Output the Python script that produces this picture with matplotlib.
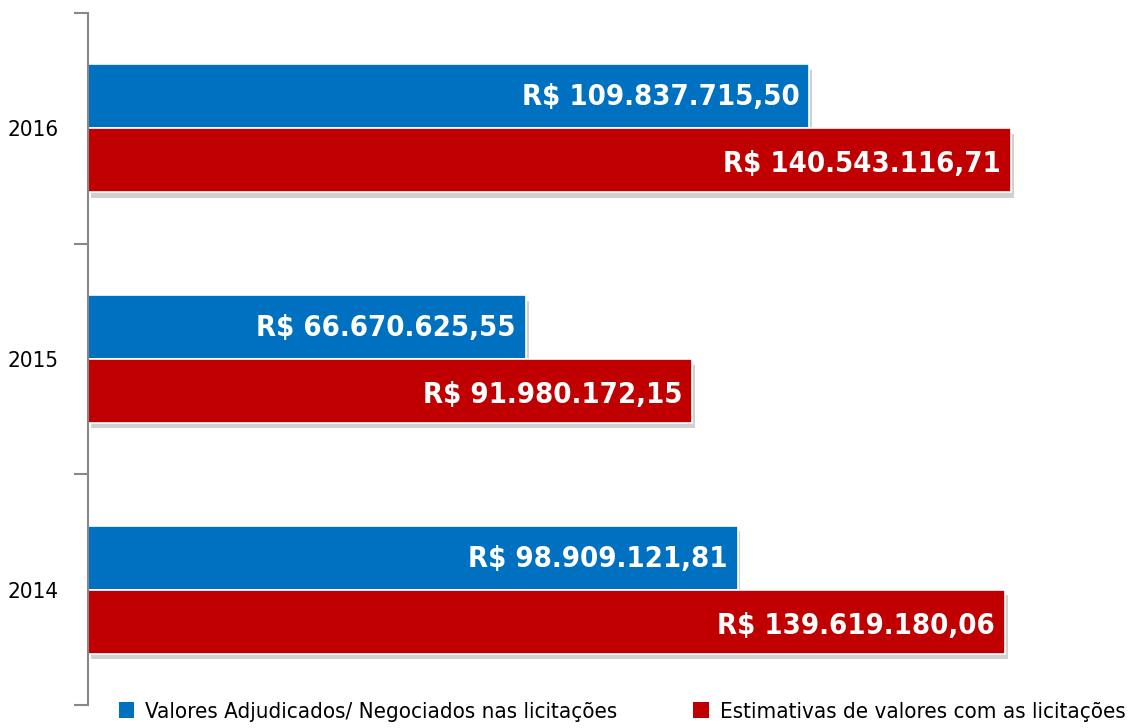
import numpy as np
import matplotlib.pyplot as plt
import matplotlib.patheffects as pe
from matplotlib.patches import Patch

# dados
anos = ["2014", "2015", "2016"]
adjudicados = [98909121.81, 66670625.55, 109837715.50]
estimativas = [139619180.06, 91980172.15, 140543116.71]
rotulos_adj = ["R$ 98.909.121,81", "R$ 66.670.625,55", "R$ 109.837.715,50"]
rotulos_est = ["R$ 139.619.180,06", "R$ 91.980.172,15", "R$ 140.543.116,71"]
nome_adj = "Valores Adjudicados/ Negociados nas licitações"
nome_est = "Estimativas de valores com as licitações"

azul = "#0070C0"
vermelho = "#C00000"
fonte = ["Liberation Sans Narrow", "DejaVu Sans"]

fig = plt.figure(figsize=(11.36, 7.28), dpi=100)
ax = fig.add_axes([88/1136, 23/728, 1042/1136, 692/728])

y = np.arange(len(anos))
h = 0.277
sombra = [pe.SimplePatchShadow(offset=(2, -4), shadow_rgbFace="#999999", alpha=0.45), pe.Normal()]
ax.barh(y + h/2, adjudicados, height=h, color=azul, edgecolor="white", linewidth=1.2,
        path_effects=sombra)
ax.barh(y - h/2, estimativas, height=h, color=vermelho, edgecolor="white", linewidth=1.2,
        path_effects=sombra)

for i in range(len(anos)):
    ax.annotate(rotulos_adj[i], (adjudicados[i], y[i] + h/2), xytext=(-10, -1), textcoords="offset pixels",
                ha="right", va="center", color="white", fontsize=21, fontweight="bold",
                fontstretch="condensed", family=fonte)
    ax.annotate(rotulos_est[i], (estimativas[i], y[i] - h/2), xytext=(-10, -4), textcoords="offset pixels",
                ha="right", va="center", color="white", fontsize=21, fontweight="bold",
                fontstretch="condensed", family=fonte)

ax.set_xlim(0, 1042/6.568*1e6)
ax.set_ylim(-0.5, 2.5)
ax.set_yticks(y)
ax.set_yticklabels(anos, fontsize=16, family=fonte, fontstretch="condensed")
ax.tick_params(axis="y", which="major", length=0, pad=21)
ax.set_yticks([-0.5, 0.5, 1.5, 2.5], minor=True)
ax.tick_params(axis="y", which="minor", length=10, width=1.5, color="#888888")
ax.set_xticks([])
for s in ["top", "right", "bottom"]:
    ax.spines[s].set_visible(False)
ax.spines["left"].set_color("#888888")
ax.spines["left"].set_linewidth(1.5)

itens = [Patch(facecolor=azul, label=nome_adj), Patch(facecolor=vermelho, label=nome_est)]
fig.legend(handles=itens, loc="center", bbox_to_anchor=(622/1136, 1 - 712/728), ncol=2, frameon=False,
           prop={"family": fonte, "size": 16, "stretch": "condensed"}, handlelength=0.7, handleheight=0.7,
           handletextpad=0.5, columnspacing=3.4)

fig.savefig("out.png", dpi=100)
